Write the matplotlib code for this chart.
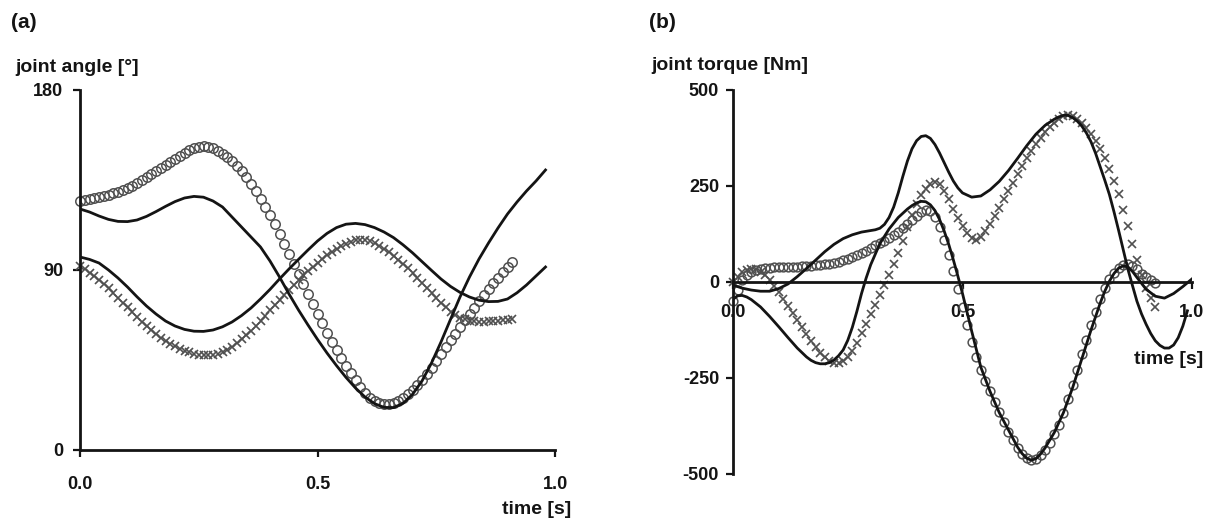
import matplotlib
matplotlib.use("Agg")
import matplotlib.pyplot as plt

plt.rcParams['font.family'] = ['Liberation Sans', 'DejaVu Sans']
plt.rcParams['font.weight'] = 'bold'
plt.rcParams['axes.unicode_minus'] = False

# ---------------- data ----------------
# marker series are sampled every 10 ms
t_marks = [0.00, 0.01, 0.02, 0.03, 0.04, 0.05, 0.06, 0.07, 0.08, 0.09,
           0.10, 0.11, 0.12, 0.13, 0.14, 0.15, 0.16, 0.17, 0.18, 0.19,
           0.20, 0.21, 0.22, 0.23, 0.24, 0.25, 0.26, 0.27, 0.28, 0.29,
           0.30, 0.31, 0.32, 0.33, 0.34, 0.35, 0.36, 0.37, 0.38, 0.39,
           0.40, 0.41, 0.42, 0.43, 0.44, 0.45, 0.46, 0.47, 0.48, 0.49,
           0.50, 0.51, 0.52, 0.53, 0.54, 0.55, 0.56, 0.57, 0.58, 0.59,
           0.60, 0.61, 0.62, 0.63, 0.64, 0.65, 0.66, 0.67, 0.68, 0.69,
           0.70, 0.71, 0.72, 0.73, 0.74, 0.75, 0.76, 0.77, 0.78, 0.79,
           0.80, 0.81, 0.82, 0.83, 0.84, 0.85, 0.86, 0.87, 0.88, 0.89,
           0.90, 0.91, 0.92]

# solid lines of panel (a) are read every 20 ms
t_lines = [0.00, 0.02, 0.04, 0.06, 0.08, 0.10, 0.12, 0.14, 0.16, 0.18,
           0.20, 0.22, 0.24, 0.26, 0.28, 0.30, 0.32, 0.34, 0.36, 0.38,
           0.40, 0.42, 0.44, 0.46, 0.48, 0.50, 0.52, 0.54, 0.56, 0.58,
           0.60, 0.62, 0.64, 0.66, 0.68, 0.70, 0.72, 0.74, 0.76, 0.78,
           0.80, 0.82, 0.84, 0.86, 0.88, 0.90, 0.92, 0.94, 0.96, 0.98]

# (a) joint angle [deg]
angle_circles = [124.5, 125.0, 125.5, 126.0, 126.5, 127.0, 127.6, 128.3, 129.0, 130.0,
                 131.0, 132.2, 133.5, 135.0, 136.5, 138.0, 139.5, 141.0, 142.5, 144.0,
                 145.5, 147.0, 148.5, 149.8, 151.0, 151.7, 152.0, 151.7, 151.0, 149.7,
                 148.0, 146.3, 144.5, 142.2, 139.5, 136.5, 133.0, 129.5, 125.5, 121.5,
                 117.5, 113.0, 108.0, 103.0, 98.0, 93.0, 88.0, 83.0, 78.0, 73.0,
                 68.0, 63.3, 58.7, 54.2, 50.0, 46.0, 42.2, 38.5, 35.0, 31.5,
                 28.5, 26.2, 24.6, 23.6, 23.1, 23.0, 23.6, 24.4, 25.8, 27.8,
                 30.2, 32.6, 35.2, 38.0, 41.2, 44.6, 48.0, 51.4, 54.8, 58.2,
                 61.5, 64.8, 68.0, 71.2, 74.3, 77.3, 80.3, 83.3, 86.2, 89.0,
                 91.6, 94.0]
angle_crosses = [92.0, 90.4, 88.7, 86.9, 85.0, 83.0, 80.8, 78.5, 76.1, 73.7,
                 71.3, 69.0, 66.6, 64.2, 61.9, 59.8, 57.9, 56.2, 54.6, 53.1,
                 51.8, 50.7, 49.7, 48.9, 48.2, 47.7, 47.4, 47.3, 47.5, 48.1,
                 49.0, 50.2, 51.7, 53.4, 55.3, 57.4, 59.7, 62.1, 64.6, 67.2,
                 69.8, 72.4, 75.0, 77.6, 80.2, 82.7, 85.1, 87.4, 89.6, 91.7,
                 93.7, 95.6, 97.3, 99.0, 100.6, 102.0, 103.2, 104.2, 104.8, 105.0,
                 104.9, 104.4, 103.5, 102.2, 100.7, 99.0, 97.2, 95.2, 93.1, 90.9,
                 88.6, 86.1, 83.5, 81.0, 78.5, 76.0, 73.6, 71.3, 69.2, 67.5,
                 66.2, 65.3, 64.7, 64.4, 64.2, 64.2, 64.3, 64.4, 64.6, 64.9,
                 65.2, 65.6]
angle_line1 = [120.5, 119.0, 117.0, 115.3, 114.3, 114.2, 115.0, 116.8, 119.2, 121.8,
               124.2, 126.0, 126.8, 126.4, 124.5, 121.5, 116.5, 111.5, 106.5, 101.5,
               94.5, 86.5, 78.0, 70.0, 62.5, 55.3, 48.5, 42.2, 36.3, 31.0,
               26.5, 23.2, 21.3, 21.2, 23.3, 27.8, 34.5, 43.5, 54.0, 65.3,
               76.5, 86.5, 95.5, 103.5, 111.0, 118.0, 124.0, 129.5, 134.5, 140.0]
angle_line2 = [96.5, 95.3, 93.5, 90.0, 86.0, 81.5, 76.6, 72.0, 68.0, 64.5,
               62.0, 60.3, 59.4, 59.3, 60.0, 61.6, 64.0, 67.2, 71.0, 75.5,
               80.3, 85.5, 90.5, 95.3, 100.0, 104.5, 108.3, 111.2, 112.9, 113.3,
               112.7, 111.2, 109.0, 106.2, 102.6, 98.6, 94.2, 89.8, 85.5, 81.8,
               78.8, 76.5, 74.9, 74.2, 74.3, 75.5, 78.6, 82.5, 87.0, 91.5]

# (b) joint torque [Nm]
torque_circles = [-50, -20, 5, 18, 26, 31, 34, 36, 37, 38,
                  39, 39, 40, 40, 40, 41, 41, 42, 43, 44,
                  46, 48, 50, 53, 56, 60, 65, 70, 76, 82,
                  89, 96, 102, 108, 115, 123, 131, 140, 150, 161,
                  172, 181, 187, 186, 168, 142, 109, 70, 28, -18,
                  -65, -112, -157, -195, -228, -258, -285, -312, -338, -364,
                  -390, -412, -432, -448, -459, -464, -461, -451, -438, -420,
                  -397, -372, -340, -305, -268, -228, -188, -150, -112, -78,
                  -45, -15, 8, 24, 36, 44, 47, 42, 33, 22,
                  12, 4, -2]
torque_crosses = [0, 14, 25, 32, 35, 33, 27, 17, 4, -10,
                  -27, -45, -63, -82, -100, -118, -136, -153, -169, -184,
                  -196, -205, -210, -211, -206, -195, -179, -158, -134, -109,
                  -84, -59, -35, -9, 18, 46, 75, 108, 143, 175,
                  203, 226, 243, 255, 260, 254, 238, 215, 190, 167,
                  146, 128, 115, 110, 116, 133, 152, 172, 193, 215,
                  237, 259, 281, 302, 322, 341, 359, 375, 390, 403,
                  414, 424, 431, 434, 431, 424, 414, 402, 386, 366,
                  346, 322, 295, 264, 228, 187, 145, 100, 57, 17,
                  -15, -42, -65]

t_torque1 = [0.00, 0.02, 0.04, 0.06, 0.08, 0.10, 0.12, 0.14, 0.16, 0.18,
             0.20, 0.22, 0.24, 0.26, 0.28, 0.30, 0.31, 0.32, 0.33, 0.34,
             0.35, 0.36, 0.37, 0.38, 0.39, 0.40, 0.41, 0.42, 0.43, 0.44,
             0.45, 0.46, 0.47, 0.48, 0.49, 0.50, 0.52, 0.54, 0.56, 0.58,
             0.60, 0.62, 0.64, 0.66, 0.68, 0.70, 0.71, 0.72, 0.73, 0.74,
             0.75, 0.76, 0.77, 0.78, 0.79, 0.80, 0.81, 0.82, 0.83, 0.84,
             0.85, 0.86, 0.87, 0.88, 0.89, 0.90, 0.91, 0.92, 0.93, 0.94,
             0.95, 0.96, 0.97, 0.98, 0.99]
torque_line1 = [-8, -16, -21, -24, -24, -17, -5, 14, 35, 57,
                79, 98, 113, 123, 130, 134, 136, 140, 150, 168,
                195, 232, 275, 315, 347, 368, 379, 381, 374, 358,
                336, 311, 286, 263, 245, 232, 221, 224, 240, 262,
                290, 322, 355, 385, 408, 424, 430, 434, 434, 428,
                419, 406, 388, 365, 335, 300, 265, 228, 183, 135,
                85, 35, -8, -50, -83, -110, -134, -153, -165, -172,
                -172, -164, -145, -115, -75]

t_torque2 = [0.00, 0.01, 0.02, 0.03, 0.04, 0.06, 0.08, 0.10, 0.12, 0.14,
             0.16, 0.17, 0.18, 0.19, 0.20, 0.21, 0.22, 0.23, 0.24, 0.25,
             0.26, 0.27, 0.28, 0.29, 0.30, 0.32, 0.34, 0.36, 0.38, 0.39,
             0.40, 0.41, 0.42, 0.43, 0.44, 0.45, 0.46, 0.47, 0.48, 0.49,
             0.50, 0.52, 0.54, 0.56, 0.58, 0.60, 0.62, 0.63, 0.64, 0.65,
             0.66, 0.67, 0.68, 0.70, 0.72, 0.74, 0.76, 0.78, 0.80, 0.81,
             0.82, 0.83, 0.84, 0.85, 0.86, 0.87, 0.88, 0.90, 0.92, 0.94,
             0.96, 0.98, 1.00]
torque_line2 = [-45, -36, -35, -39, -46, -65, -90, -117, -145, -172,
                -195, -204, -210, -213, -213, -210, -203, -192, -177, -152,
                -118, -76, -30, 10, 45, 100, 138, 168, 190, 199,
                206, 210, 209, 201, 186, 163, 133, 98, 58, 15,
                -30, -128, -222, -285, -340, -385, -430, -447, -459, -464,
                -460, -448, -432, -392, -340, -275, -200, -125, -55, -24,
                2, 22, 36, 42, 40, 28, 12, -19, -37, -42,
                -30, -12, 8]

# ---------------- drawing ----------------
ink = '#141414'
grey = '#505050'
W, H = 1218, 520

fig = plt.figure(figsize=(W / 100, H / 100), dpi=100)
axa = fig.add_axes([80 / W, 70 / H, 475 / W, 360 / H])
axb = fig.add_axes([733 / W, 46 / H, 459 / W, 384 / H])

n_a = len(angle_circles)
axa.plot(t_marks[:n_a], angle_circles, ls='none', marker='o', ms=6.8,
         mfc='none', mec=grey, mew=1.1, clip_on=False)
axa.plot(t_marks[:n_a], angle_crosses, ls='none', marker='x', ms=6,
         mec=grey, mew=1.2, clip_on=False)
axa.plot(t_lines, angle_line1, color=ink, lw=2.0)
axa.plot(t_lines, angle_line2, color=ink, lw=2.0)

n_b = len(torque_circles)
axb.plot(t_marks[:n_b], torque_circles, ls='none', marker='o', ms=6.3,
         mfc='none', mec=grey, mew=1.1, clip_on=False)
axb.plot(t_marks[:n_b], torque_crosses, ls='none', marker='x', ms=6.3,
         mec=grey, mew=1.2, clip_on=False)
axb.plot(t_torque1, torque_line1, color=ink, lw=2.0)
axb.plot(t_torque2, torque_line2, color=ink, lw=2.0)

# axes styling
for ax in (axa, axb):
    ax.spines['top'].set_visible(False)
    ax.spines['right'].set_visible(False)
    ax.spines['left'].set_linewidth(2.0)
    ax.spines['bottom'].set_linewidth(2.0)
    ax.spines['left'].set_color(ink)
    ax.spines['bottom'].set_color(ink)
    ax.set_xlim(0, 1)
    ax.set_xticks([0, 0.5, 1.0])
    ax.set_xticklabels(['0.0', '0.5', '1.0'])
    ax.patch.set_visible(False)

axa.set_ylim(0, 180)
axa.set_yticks([0, 90, 180])
axa.tick_params(axis='y', direction='out', length=5, width=1.6, pad=7,
                labelsize=13, colors=ink)
axa.tick_params(axis='x', direction='out', length=5, width=1.6, pad=14,
                labelsize=13, colors=ink)

axb.set_ylim(-500, 500)
axb.set_yticks([-500, -250, 0, 250, 500])
axb.spines['bottom'].set_position(('data', 0))
axb.tick_params(axis='y', direction='out', length=5, width=1.6, pad=5,
                labelsize=13, colors=ink)
axb.tick_params(axis='x', direction='out', length=5, width=1.6, pad=11,
                labelsize=13, colors=ink)

for lab in axa.get_xticklabels() + axa.get_yticklabels() + \
        axb.get_xticklabels() + axb.get_yticklabels():
    lab.set_fontweight('bold')

# labels
fig.text(11 / W, 1 - 23 / H, '(a)', ha='left', va='center', fontsize=15, weight='bold', color=ink)
fig.text(649 / W, 1 - 23 / H, '(b)', ha='left', va='center', fontsize=15, weight='bold', color=ink)
fig.text(15 / W, 1 - 67 / H, 'joint angle [°]', ha='left', va='center', fontsize=14, weight='bold', color=ink)
fig.text(651 / W, 1 - 66 / H, 'joint torque [Nm]', ha='left', va='center', fontsize=14, weight='bold', color=ink)
fig.text(571 / W, 1 - 509 / H, 'time [s]', ha='right', va='center', fontsize=14, weight='bold', color=ink)
fig.text(1203 / W, 1 - 360 / H, 'time [s]', ha='right', va='center', fontsize=14, weight='bold', color=ink)

fig.savefig('out.png', dpi=100, facecolor='white')
